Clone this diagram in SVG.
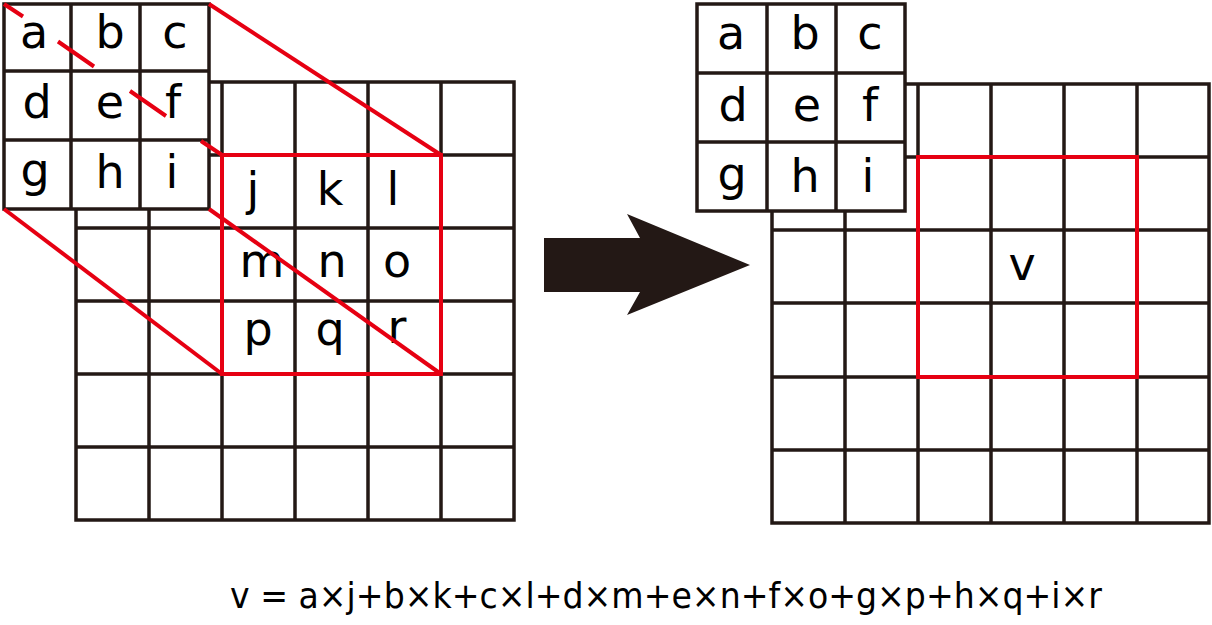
<svg xmlns="http://www.w3.org/2000/svg" width="1212" height="625" viewBox="0 0 1212 625">
<style>
.bg{fill:#ffffff}
.grid{fill:#ffffff;stroke:#231815;stroke-width:3.5}
.gl{stroke:#231815;stroke-width:3.5;fill:none}
.red{stroke:#e60012;stroke-width:4;fill:none}
.lt{font-family:"DejaVu Sans","Liberation Sans",sans-serif;font-size:46px;fill:#000000;text-anchor:middle}
.eq{font-family:"DejaVu Sans","Liberation Sans",sans-serif;font-size:35px;fill:#000000}
</style>
<rect class="bg" x="0" y="0" width="1212" height="625"/>

<g id="left-input-grid">
  <rect class="grid" x="76" y="82" width="438" height="438"/>
  <path class="gl" d="M149 82V520M222 82V520M295 82V520M368 82V520M441 82V520M76 155H514M76 228H514M76 301H514M76 374H514M76 447H514"/>
</g>

<g id="left-window">
  <rect class="red" x="222" y="155" width="219" height="219"/>
  <text class="lt" x="253" y="205">j</text>
  <text class="lt" x="330" y="205">k</text>
  <text class="lt" x="393" y="205">l</text>
  <text class="lt" x="262" y="277">m</text>
  <text class="lt" x="332" y="277">n</text>
  <text class="lt" x="397" y="277">o</text>
  <text class="lt" x="258" y="345">p</text>
  <text class="lt" x="330" y="345">q</text>
  <text class="lt" x="397" y="343">r</text>
</g>

<g id="left-kernel">
  <rect class="grid" x="4" y="4" width="205" height="205"/>
  <path class="gl" d="M71 4V209M140 4V209M4 71H209M4 140H209"/>
  <text class="lt" x="34" y="48">a</text>
  <text class="lt" x="110" y="48">b</text>
  <text class="lt" x="175" y="48">c</text>
  <text class="lt" x="37" y="118">d</text>
  <text class="lt" x="110" y="118">e</text>
  <text class="lt" x="173" y="118">f</text>
  <text class="lt" x="35" y="186">g</text>
  <text class="lt" x="110" y="188">h</text>
  <text class="lt" x="172" y="188">i</text>
</g>

<g id="connectors">
  <line class="red" x1="209" y1="4" x2="441" y2="155"/>
  <line class="red" x1="4" y1="209" x2="222" y2="374"/>
  <line class="red" x1="209" y1="209" x2="441" y2="374"/>
  <path class="red" d="M4 4L23 16.5M58 41.5L94 66.5M130 91L166 116M201 141L222 155"/>
</g>

<g id="arrow">
  <polygon fill="#231815" points="544,238 640,238 627,214 750,265 627,315 640,292 544,292"/>
</g>

<g id="right-output-grid">
  <rect class="grid" x="772" y="84" width="437" height="439"/>
  <path class="gl" d="M845 84V523M918 84V523M991 84V523M1064 84V523M1137 84V523M772 157H1209M772 230H1209M772 303H1209M772 377H1209M772 450H1209"/>
  <rect class="red" x="918" y="157" width="219" height="220"/>
  <text class="lt" x="1022" y="280">v</text>
</g>

<g id="right-kernel">
  <rect class="grid" x="697" y="4" width="208" height="207"/>
  <path class="gl" d="M767 4V211M836 4V211M697 73H905M697 142H905"/>
  <text class="lt" x="731" y="49">a</text>
  <text class="lt" x="805" y="49">b</text>
  <text class="lt" x="870" y="49">c</text>
  <text class="lt" x="733" y="121">d</text>
  <text class="lt" x="807" y="121">e</text>
  <text class="lt" x="870" y="121">f</text>
  <text class="lt" x="732" y="190">g</text>
  <text class="lt" x="805" y="192">h</text>
  <text class="lt" x="868" y="192">i</text>
</g>

<g id="equation">
  <text class="eq" x="230" y="608" textLength="872" lengthAdjust="spacingAndGlyphs">v = a×j+b×k+c×l+d×m+e×n+f×o+g×p+h×q+i×r</text>
</g>
</svg>
